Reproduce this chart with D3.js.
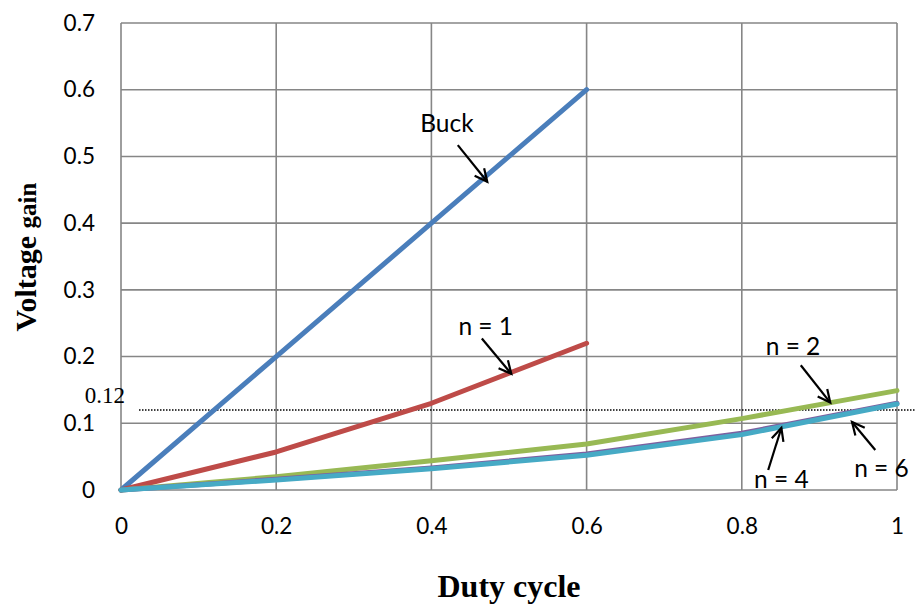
<!DOCTYPE html>
<html>
<head>
<meta charset="utf-8">
<script src="https://cdn.jsdelivr.net/npm/d3@7"></script>
<style>
  html, body { margin: 0; padding: 0; background: #fff; }
  svg { display: block; }
</style>
</head>
<body>
<svg id="chart" width="916" height="605"></svg>
<script>
// Duty-cycle sample points shared by the converter curves
const duty = [0, 0.2, 0.4, 0.6, 0.8, 1];
const dutyBuck = [0, 0.2, 0.4, 0.6];

// Voltage gain of each converter
const gainBuck = [0, 0.2, 0.4, 0.6];
const gainN1 = [0, 0.057, 0.13, 0.22];
const gainN2 = [0, 0.02, 0.044, 0.069, 0.107, 0.149];
const gainN4 = [0, 0.016, 0.033, 0.054, 0.085, 0.13];
const gainN6 = [0, 0.015, 0.032, 0.052, 0.083, 0.129];

// Axis ticks
const xTicks = [0, 0.2, 0.4, 0.6, 0.8, 1];
const yTicks = [0, 0.1, 0.2, 0.3, 0.4, 0.5, 0.6, 0.7];

// Reference level drawn as a dotted line
const refLevel = 0.12;
const refLabel = "0.12";

// Callouts: label anchor, arrow tail, arrow tip (data units)
const callouts = [
  { text: "Buck",  lx: 0.420, ly: 0.537, x0: 0.434, y0: 0.517, x1: 0.472, y1: 0.462 },
  { text: "n = 1", lx: 0.470, ly: 0.232, x0: 0.465, y0: 0.227, x1: 0.503, y1: 0.174 },
  { text: "n = 2", lx: 0.866, ly: 0.202, x0: 0.876, y0: 0.187, x1: 0.914, y1: 0.131 },
  { text: "n = 4", lx: 0.851, ly: 0.003, x0: 0.834, y0: 0.030, x1: 0.851, y1: 0.093 },
  { text: "n = 6", lx: 0.980, ly: 0.020, x0: 0.972, y0: 0.060, x1: 0.942, y1: 0.102 }
];

const series = [
  { name: "Buck", xs: dutyBuck, ys: gainBuck, color: "#4a7ebb" },
  { name: "n = 1", xs: dutyBuck, ys: gainN1, color: "#be4b48" },
  { name: "n = 2", xs: duty, ys: gainN2, color: "#98b954" },
  { name: "n = 4", xs: duty, ys: gainN4, color: "#7d60a0" },
  { name: "n = 6", xs: duty, ys: gainN6, color: "#46aac5" }
];

const svg = d3.select("#chart");
const plot = { left: 121, right: 897, top: 23, bottom: 490 };

const x = d3.scaleLinear().domain([0, 1]).range([plot.left, plot.right]);
const y = d3.scaleLinear().domain([0, 0.7]).range([plot.bottom, plot.top]);

const tickFont = "Lato, 'Liberation Sans', sans-serif";
const serif = "'Liberation Serif', 'Times New Roman', serif";
const gridColor = "#868686";

// Gridlines
svg.append("g").selectAll("line.h").data(yTicks).join("line")
  .attr("x1", plot.left).attr("x2", plot.right)
  .attr("y1", d => y(d)).attr("y2", d => y(d))
  .attr("stroke", gridColor).attr("stroke-width", 1.6);
svg.append("g").selectAll("line.v").data(xTicks).join("line")
  .attr("x1", d => x(d)).attr("x2", d => x(d))
  .attr("y1", plot.top).attr("y2", plot.bottom)
  .attr("stroke", gridColor).attr("stroke-width", 1.6);

// Axes (labels only; lines come from the grid)
const yAxis = d3.axisLeft(y).tickValues(yTicks).tickSize(0).tickPadding(26)
  .tickFormat(d => d3.format("~g")(d));
const gy = svg.append("g").attr("transform", `translate(${plot.left},0)`).call(yAxis);
gy.select(".domain").remove();
gy.selectAll("text").attr("font-family", tickFont).attr("font-size", 22.5).attr("fill", "#000");

const xAxis = d3.axisBottom(x).tickValues(xTicks).tickSize(0).tickPadding(28)
  .tickFormat(d => d3.format("~g")(d));
const gx = svg.append("g").attr("transform", `translate(0,${plot.bottom})`).call(xAxis);
gx.select(".domain").remove();
gx.selectAll("text").attr("font-family", tickFont).attr("font-size", 22.5).attr("fill", "#000");

// Reference level
svg.append("line")
  .attr("x1", 139).attr("x2", 916)
  .attr("y1", y(refLevel)).attr("y2", y(refLevel))
  .attr("stroke", "#000").attr("stroke-width", 1.5)
  .attr("stroke-dasharray", "1.5,1.5");
svg.append("text")
  .attr("x", 125).attr("y", y(refLevel) - 7)
  .attr("text-anchor", "end")
  .attr("font-family", serif)
  .attr("font-size", 23)
  .text(refLabel);

// Curves
const line = d3.line().x(d => x(d[0])).y(d => y(d[1]));
svg.append("g").selectAll("path").data(series).join("path")
  .attr("d", s => line(s.xs.map((v, i) => [v, s.ys[i]])))
  .attr("fill", "none")
  .attr("stroke", s => s.color)
  .attr("stroke-width", 5)
  .attr("stroke-linejoin", "round")
  .attr("stroke-linecap", "round");

// Callout arrows and labels
const cg = svg.append("g");
callouts.forEach(c => {
  const ax = x(c.x0), ay = y(c.y0), bx = x(c.x1), by = y(c.y1);
  cg.append("line").attr("x1", ax).attr("y1", ay).attr("x2", bx).attr("y2", by)
    .attr("stroke", "#000").attr("stroke-width", 2.2);
  const ang = Math.atan2(by - ay, bx - ax);
  const len = 14, spread = 0.45;
  const pts = [
    [bx - len * Math.cos(ang - spread), by - len * Math.sin(ang - spread)],
    [bx, by],
    [bx - len * Math.cos(ang + spread), by - len * Math.sin(ang + spread)]
  ];
  cg.append("path").attr("d", d3.line()(pts))
    .attr("fill", "none").attr("stroke", "#000").attr("stroke-width", 2.2)
    .attr("stroke-linejoin", "miter");
  cg.append("text")
    .attr("x", x(c.lx)).attr("y", y(c.ly))
    .attr("text-anchor", "middle")
    .attr("font-family", tickFont).attr("font-size", 24.5)
    .text(c.text);
});

// Axis titles
svg.append("text")
  .attr("transform", "translate(36,257) rotate(-90)")
  .attr("text-anchor", "middle")
  .attr("font-family", serif)
  .attr("font-weight", "bold")
  .call(t => {
    t.append("tspan").attr("font-size", 30).text("Voltage ");
    t.append("tspan").attr("font-size", 25).text("gain");
  });

svg.append("text")
  .attr("x", 509).attr("y", 597)
  .attr("text-anchor", "middle")
  .attr("font-family", serif)
  .attr("font-weight", "bold")
  .attr("font-size", 32)
  .text("Duty cycle");
</script>
</body>
</html>
